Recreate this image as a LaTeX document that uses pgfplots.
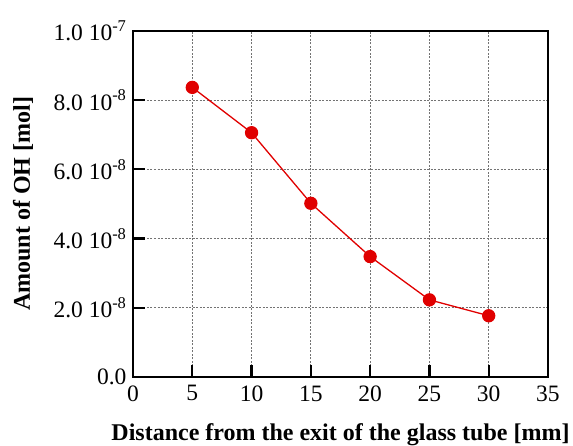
\documentclass[border=0pt]{standalone}
\usepackage{pgfplots}
\pgfplotsset{compat=1.18}
\usepackage{fontspec}
\setmainfont{Liberation Serif}
\definecolor{ptred}{RGB}{224,0,0}
\begin{document}
\begin{tikzpicture}
\path[use as bounding box] (0,0) rectangle (573pt,446pt);
\begin{axis}[
  at={(133pt,69pt)}, anchor=south west,
  scale only axis, width=415pt, height=346pt,
  xmin=0, xmax=35, ymin=0, ymax=1e-7,
  xtick={0,5,10,15,20,25,30,35},
  xticklabels={0,5,10,15,20,25,30,35},
  ytick={0,2e-8,4e-8,6e-8,8e-8,1e-7},
  yticklabels={0.0,2.0 10\textsuperscript{-8},4.0 10\textsuperscript{-8},6.0 10\textsuperscript{-8},8.0 10\textsuperscript{-8},1.0 10\textsuperscript{-7}},
  scaled y ticks=false,
  xtick pos=left, ytick pos=left,
  xtick align=inside, ytick align=inside,
  major tick length=12pt,
  every tick/.append style={line width=2.2pt, black, solid},
  axis line style={line width=2.8pt},
  grid=major,
  every major grid/.append style={line width=1.1pt, black!55, dash pattern=on 2pt off 1.5pt},
  tick label style={font=\fontsize{23.5}{26}\selectfont},
  xticklabel style={yshift=-5pt},
  yticklabel style={xshift=-3pt},
  xlabel={\textbf{Distance from the exit of the glass tube [mm]}},
  ylabel={\textbf{Amount of OH [mol]}},
  label style={font=\fontsize{24}{27}\selectfont},
  xlabel style={at={(axis description cs:0.5,-0.168)}, anchor=center},
  ylabel style={at={(axis description cs:-0.265,0.5)}, anchor=center},
  clip=false,
]
\addplot[ptred, line width=1.3pt, mark=*, mark size=6pt, mark options={fill=ptred, draw=ptred}]
  coordinates {(5,8.37e-8) (10,7.06e-8) (15,5.02e-8) (20,3.48e-8) (25,2.23e-8) (30,1.77e-8)};
\end{axis}
\end{tikzpicture}
\end{document}
